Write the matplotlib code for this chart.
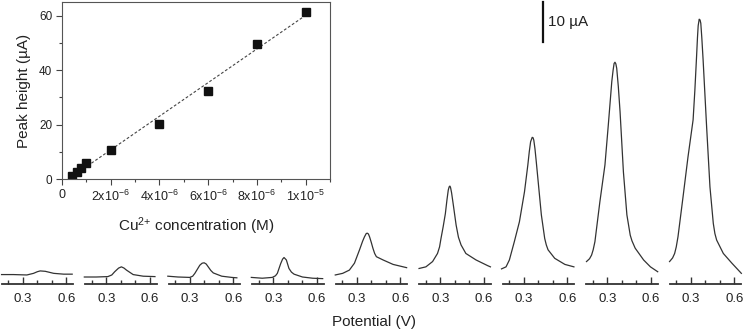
import numpy as np
import matplotlib
matplotlib.use("Agg")
import matplotlib.pyplot as plt
from matplotlib.ticker import MultipleLocator, FixedLocator

plt.rcParams['font.family'] = ['Liberation Sans', 'DejaVu Sans']
plt.rcParams['mathtext.default'] = 'regular'

# calibration data (inset)
conc = [4e-7, 6e-7, 8e-7, 1e-6, 2e-6, 4e-6, 6e-6, 8e-6, 1e-5]
peak = [1.2, 2.7, 4.1, 5.7, 10.5, 20.1, 32.4, 49.5, 61.5]
conc_ticks = [0, 2e-6, 4e-6, 6e-6, 8e-6, 1e-5]
conc_labels = ['0', r'2x10$^{-6}$', r'4x10$^{-6}$', r'6x10$^{-6}$', r'8x10$^{-6}$', r'1x10$^{-5}$']

# voltammograms (potential V, current uA with offset)
pot1 = [0.154, 0.235, 0.328, 0.374, 0.400, 0.420, 0.455, 0.513, 0.582, 0.640]
cur1 = [2.2, 2.2, 2.1, 2.5, 2.9, 3.1, 3.0, 2.5, 2.3, 2.3]

pot2 = [0.149, 0.231, 0.311, 0.338, 0.358, 0.385, 0.404, 0.422, 0.439, 0.485, 0.554, 0.635]
cur2 = [1.6, 1.6, 1.7, 2.1, 2.9, 3.8, 4.1, 3.8, 3.3, 2.2, 1.8, 1.7]

pot3 = [0.149, 0.219, 0.300, 0.320, 0.335, 0.369, 0.385, 0.399, 0.413, 0.427, 0.445,
        0.462, 0.520, 0.589, 0.624]
cur3 = [1.8, 1.6, 1.5, 1.8, 2.5, 4.5, 5.0, 5.1, 4.8, 4.1, 3.2, 2.6, 1.8, 1.5, 1.4]

pot4 = [0.149, 0.224, 0.293, 0.315, 0.328, 0.351, 0.364, 0.374, 0.390, 0.408, 0.425,
        0.443, 0.501, 0.571, 0.640]
cur4 = [1.5, 1.3, 1.5, 1.9, 2.5, 4.9, 6.0, 6.4, 5.8, 3.7, 2.8, 2.3, 1.6, 1.3, 1.2]

pot5 = [0.152, 0.203, 0.249, 0.284, 0.319, 0.340, 0.353, 0.365, 0.372, 0.380, 0.388,
        0.400, 0.411, 0.423, 0.435, 0.481, 0.550, 0.643]
cur5 = [2.1, 2.5, 3.3, 5.0, 8.3, 10.4, 11.5, 12.3, 12.4, 12.2, 11.5,
        10.1, 8.7, 7.4, 6.6, 5.8, 4.7, 3.9]

pot6 = [0.154, 0.201, 0.247, 0.281, 0.295, 0.305, 0.320, 0.335, 0.346, 0.355, 0.361,
        0.366, 0.371, 0.378, 0.390, 0.409, 0.425, 0.443, 0.476, 0.546, 0.626, 0.645]
cur6 = [3.7, 4.1, 5.4, 7.4, 9.0, 11.1, 14.0, 17.2, 20.6, 23.0, 23.8,
        24.0, 23.6, 22.3, 19.3, 14.4, 11.4, 9.5, 7.4, 5.8, 4.4, 4.1]

pot7 = [0.147, 0.178, 0.201, 0.235, 0.270, 0.305, 0.328, 0.338, 0.347, 0.358, 0.364,
        0.369, 0.377, 0.386, 0.421, 0.444, 0.455, 0.467, 0.513, 0.583, 0.645]
cur7 = [3.6, 4.1, 5.8, 10.3, 15.2, 22.6, 29.2, 32.5, 34.9, 36.0, 35.9,
        35.3, 33.2, 30.0, 16.9, 11.1, 9.5, 8.3, 6.2, 4.7, 4.1]

pot8 = [0.157, 0.178, 0.192, 0.203, 0.215, 0.249, 0.284, 0.307, 0.331, 0.340, 0.347,
        0.353, 0.359, 0.365, 0.376, 0.388, 0.411, 0.435, 0.458, 0.470, 0.492,
        0.550, 0.597, 0.647]
cur8 = [5.4, 6.1, 7.0, 8.3, 10.3, 20.1, 29.2, 39.0, 49.7, 52.5, 54.2,
        54.5, 54.1, 53.0, 48.5, 42.3, 27.5, 16.9, 11.9, 10.5, 8.7,
        5.8, 4.1, 2.9]

pot9 = [0.154, 0.175, 0.189, 0.200, 0.212, 0.247, 0.281, 0.316, 0.328, 0.340, 0.346,
        0.351, 0.358, 0.364, 0.369, 0.376, 0.385, 0.409, 0.432, 0.455, 0.466,
        0.478, 0.524, 0.583, 0.648]
cur9 = [5.4, 6.3, 7.4, 9.0, 11.5, 21.4, 31.2, 40.3, 47.5, 56.0, 60.5,
        63.5, 65.1, 64.9, 64.1, 60.5, 55.0, 38.6, 23.8, 14.8, 12.3,
        10.7, 7.4, 5.0, 2.5]

pots = [pot1, pot2, pot3, pot4, pot5, pot6, pot7, pot8, pot9]
curs = [cur1, cur2, cur3, cur4, cur5, cur6, cur7, cur8, cur9]

W, H = 744, 334
fig = plt.figure(figsize=(W / 100, H / 100), dpi=100)
txt = '#222222'

# bottom row of voltammograms
for k in range(9):
    left = 1.7 + 83.5 * k
    ax = fig.add_axes([left / W, (H - 283.5) / H, 71.5 / W, 284.2 / H])
    ax.patch.set_alpha(0)
    ax.plot(pots[k], curs[k], color='#333333', lw=0.9, clip_on=False,
            solid_joinstyle='round')
    ax.set_xlim(0.155, 0.647)
    ax.set_ylim(0, 70)
    for s in ['top', 'right', 'left']:
        ax.spines[s].set_visible(False)
    ax.spines['bottom'].set_linewidth(1.3)
    ax.spines['bottom'].set_color('#333333')
    ax.set_yticks([])
    ax.xaxis.set_major_locator(FixedLocator([0.3, 0.6]))
    ax.xaxis.set_minor_locator(FixedLocator([0.2, 0.4, 0.5]))
    ax.set_xticklabels(['0.3', '0.6'])
    ax.tick_params(axis='x', which='major', direction='in', length=5, width=1,
                   pad=7, labelsize=9.5, labelcolor=txt, color='#333333')
    ax.tick_params(axis='x', which='minor', direction='in', length=3, width=1,
                   color='#333333')
    if k == 6:
        # 10 uA scale bar
        ax.plot([0.432, 0.432], [59.4, 69.4], color='#111111', lw=1.6, clip_on=False)
        ax.text(0.465, 64.5, '10 µA', fontsize=11, color=txt, va='center', ha='left')

fig.text(374 / W, 1 - 322 / H, 'Potential (V)', fontsize=11, color=txt,
         ha='center', va='center')

# inset calibration plot
ins = fig.add_axes([62 / W, (H - 179) / H, 268 / W, 177 / H])
fit = np.polyfit(conc, peak, 1)
xf = np.array([conc[0], conc[-1]])
ins.plot(xf, np.polyval(fit, xf), ls=(0, (2.5, 1.8)), color='#444444', lw=0.8)
ins.plot(conc, peak, 's', color='#111111', ms=5.5)
ins.set_xlim(0, 1.1e-5)
ins.set_ylim(0, 65)
ins.set_xticks(conc_ticks)
ins.set_xticklabels(conc_labels)
ins.xaxis.set_minor_locator(MultipleLocator(1e-6))
ins.yaxis.set_major_locator(MultipleLocator(20))
ins.yaxis.set_minor_locator(MultipleLocator(10))
ins.tick_params(which='major', direction='out', length=4, width=0.8, pad=3,
                labelsize=8.5, labelcolor=txt, color='#444444')
ins.tick_params(axis='x', which='major', labelsize=9)
ins.tick_params(which='minor', direction='out', length=2.5, width=0.8, color='#444444')
for s in ins.spines.values():
    s.set_linewidth(0.8)
    s.set_color('#555555')
ins.set_ylabel('Peak height (µA)', fontsize=11, color=txt, labelpad=6)
ins.set_xlabel('Cu$^{2{+}}$ concentration (M)', fontsize=11, color=txt, labelpad=8)

fig.savefig('out.png', dpi=100)
